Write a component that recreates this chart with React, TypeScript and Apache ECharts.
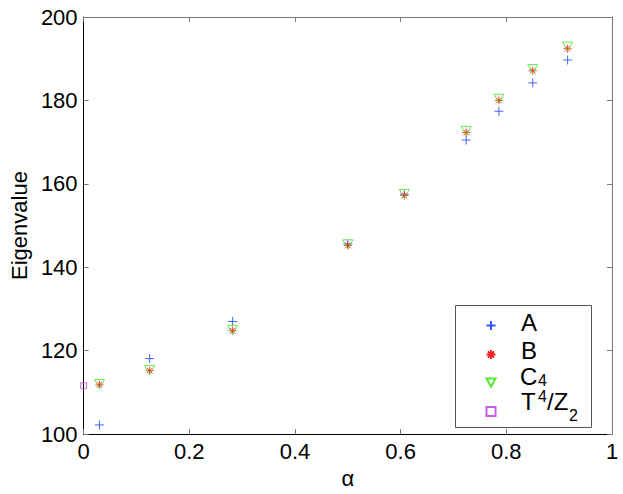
import React, { useEffect, useRef } from "react";
import * as echarts from "echarts";

const alphas = [0.03, 0.125, 0.282, 0.5, 0.607, 0.724, 0.786, 0.85, 0.916];
const seriesA = [102.2, 118.1, 127.0, 145.6, 157.5, 170.5, 177.4, 184.2, 189.7];
const seriesB = [111.8, 115.2, 124.8, 145.2, 157.2, 172.3, 180.0, 187.1, 192.4];
const seriesC = [112.0, 115.4, 125.0, 145.5, 157.6, 172.7, 180.4, 187.5, 192.9];
const torusAlpha = [0];
const torusValue = [111.6];
const seriesNames = ["A", "B", "C4", "T4/Z2"];

const FONT = "Liberation Sans, Arial, Helvetica, sans-serif";

const plusPath = "path://M0,5L10,5M5,0L5,10";
const starPath = "path://M5,0L5,10M0,5L10,5M1.5,1.5L8.5,8.5M1.5,8.5L8.5,1.5";
const triPath = "path://M0,0L10,0L5,9Z";
const sqPath = "path://M0,0L10,0L10,10L0,10Z";

const colors = ["#3355ff", "#ff2020", "#55e833", "#c060f0"];

function pairs(xs: number[], ys: number[]) {
  return xs.map((x, i) => [x, ys[i]]);
}

function txt(text: string, x: number, y: number, size: number, lh: number) {
  return {
    type: "text",
    x,
    y,
    z: 10,
    silent: true,
    style: {
      text,
      fill: "#000",
      font: `${size}px ${FONT}`,
      lineHeight: lh,
      verticalAlign: "middle",
      align: "left",
    },
  };
}

export default function App() {
  const ref = useRef<HTMLDivElement>(null);
  useEffect(() => {
    if (!ref.current) return;
    const chart = echarts.init(ref.current, undefined, { renderer: "svg" });
    const symbols = [plusPath, starPath, triPath, sqPath];
    const sizes: any[] = [9, 8, [10, 9], 6];
    const datas = [
      pairs(alphas, seriesA),
      pairs(alphas, seriesB),
      pairs(alphas, seriesC),
      pairs(torusAlpha, torusValue),
    ];
    const series = seriesNames.map((n, i) => ({
      type: "scatter",
      name: n,
      data: datas[i],
      symbol: symbols[i],
      symbolSize: sizes[i],
      itemStyle: { color: "none", borderColor: colors[i], borderWidth: 0.9, opacity: 1 },
      emphasis: { disabled: true },
      silent: true,
      z: 3,
    }));
    const rowIcon = [323, 352, 380.5, 409];
    const legends = seriesNames.map((n, i) => ({
      data: [n],
      left: 484,
      top: rowIcon[i] - 4.5,
      orient: "vertical",
      padding: 0,
      itemWidth: 9,
      itemHeight: 9,
      selectedMode: false,
      formatter: () => "",
      textStyle: { fontSize: 9, lineHeight: 9 },
      z: 10,
    }));
    const axisCommon = {
      min: 0,
      max: 1,
      interval: 0.2,
    };
    chart.setOption({
      animation: false,
      backgroundColor: "#fff",
      grid: { left: 80, top: 17, right: 11, bottom: 58, containLabel: false },
      legend: legends,
      graphic: [
        {
          type: "rect",
          shape: { x: 455.5, y: 305.5, width: 136, height: 122 },
          style: { fill: "#fff", stroke: "#555", lineWidth: 1 },
          z: 5,
          silent: true,
        },
        txt("A", 521, 322.5, 24, 16),
        txt("B", 521, 350.5, 24, 16),
        txt("C", 520, 376, 24, 16),
        txt("4", 538, 380, 16, 12),
        txt("T", 521, 401.5, 24, 16),
        txt("4", 538, 396, 16, 12),
        txt("/Z", 547, 401.5, 24, 16),
        txt("2", 569, 415, 16, 12),
      ],
      xAxis: [
        {
          type: "value",
          ...axisCommon,
          position: "bottom",
          name: "α",
          nameLocation: "middle",
          nameGap: 28,
          nameTextStyle: { fontSize: 22, fontFamily: FONT, color: "#000" },
          axisLine: { show: true, onZero: false, lineStyle: { color: "#000", width: 1 } },
          axisTick: { show: true, inside: true, length: 5, lineStyle: { color: "#777" } },
          axisLabel: {
            fontSize: 22,
            fontFamily: FONT,
            color: "#000",
            margin: 6,
            formatter: (v: number) => String(parseFloat(v.toFixed(1))),
          },
          splitLine: { show: false },
        },
        {
          type: "value",
          ...axisCommon,
          position: "top",
          axisLine: { show: true, onZero: false, lineStyle: { color: "#777", width: 1 } },
          axisTick: { show: true, inside: true, length: 5, lineStyle: { color: "#777" } },
          axisLabel: { show: false },
          splitLine: { show: false },
        },
      ],
      yAxis: [
        {
          type: "value",
          min: 100,
          max: 200,
          interval: 20,
          position: "left",
          name: "Eigenvalue",
          nameLocation: "middle",
          nameGap: 51,
          nameTextStyle: { fontSize: 22, fontFamily: FONT, color: "#000" },
          axisLine: { show: true, onZero: false, lineStyle: { color: "#000", width: 1 } },
          axisTick: { show: true, inside: true, length: 5, lineStyle: { color: "#777" } },
          axisLabel: { fontSize: 22, fontFamily: FONT, color: "#000", margin: 6 },
          splitLine: { show: false },
        },
        {
          type: "value",
          min: 100,
          max: 200,
          interval: 20,
          position: "right",
          axisLine: { show: true, onZero: false, lineStyle: { color: "#777", width: 1 } },
          axisTick: { show: true, inside: true, length: 5, lineStyle: { color: "#777" } },
          axisLabel: { show: false },
          splitLine: { show: false },
        },
      ],
      series,
    });
    return () => chart.dispose();
  }, []);
  return (
    <div
      ref={ref}
      style={{ position: "fixed", left: 0, top: 0, width: 623, height: 494 }}
    />
  );
}
